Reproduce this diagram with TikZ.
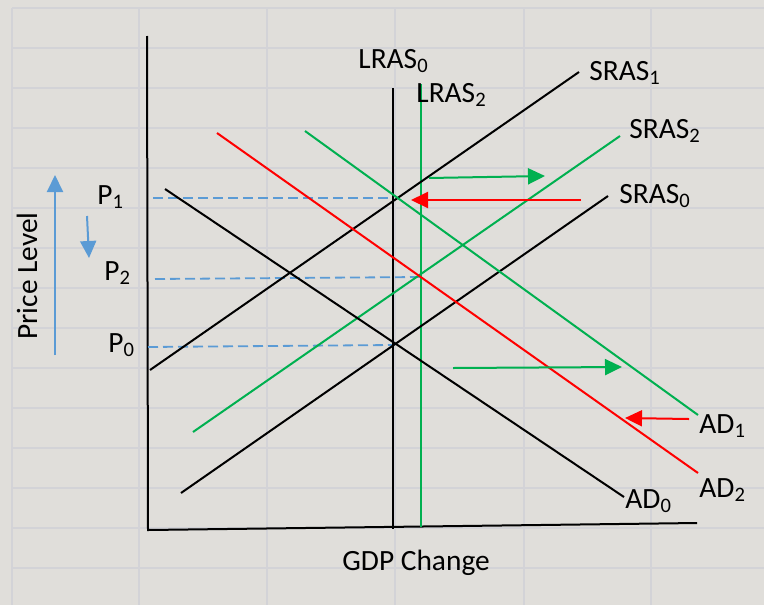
\documentclass[tikz,border=0pt]{standalone}
\usepackage{fontspec}
\setmainfont{Carlito}
\usetikzlibrary{arrows.meta}
\definecolor{bggray}{RGB}{224,222,218}
\definecolor{gridgray}{RGB}{211,211,215}
\definecolor{xlgreen}{RGB}{0,176,80}
\definecolor{xlred}{RGB}{255,0,0}
\definecolor{xlblue}{RGB}{91,155,213}

\begin{document}
\begin{tikzpicture}[x=0.5pt, y=-0.5pt,
  schedline/.style={line width=1pt},
  shiftarrow/.style={line width=1pt, -{Triangle[length=8.5pt, width=8pt]}},
  guideline/.style={xlblue, line width=0.9pt, dash pattern=on 5pt off 2.5pt},
  lbl/.style={anchor=base west, inner sep=0pt, font=\fontsize{14.7}{17}\selectfont},
]
% Sheet background and grid
\fill[bggray] (0,0) rectangle (764,605);
\useasboundingbox (0,0) rectangle (764,605);
\foreach \gx in {12,139,267,395,524,651}
  \draw[gridgray, line width=1pt] (\gx,8) -- (\gx,605);
\foreach \gy in {8,48,...,568}
  \draw[gridgray, line width=1pt] (12,\gy) -- (764,\gy);

% Axes
\coordinate (ytop) at (147,36);
\coordinate (origin) at (148,530);
\coordinate (xend) at (697,523);
\draw[line width=1pt] (ytop) -- (origin) -- (xend);

% Curve end points
\coordinate (lras0-a) at (393,88);   \coordinate (lras0-b) at (393,529);
\coordinate (lras2-a) at (421,84);   \coordinate (lras2-b) at (421,527);
\coordinate (sras1-a) at (150,370);  \coordinate (sras1-b) at (579,72);
\coordinate (sras2-a) at (193,432);  \coordinate (sras2-b) at (620,136);
\coordinate (sras0-a) at (181,493);  \coordinate (sras0-b) at (608,196);
\coordinate (ad0-a) at (165,189);    \coordinate (ad0-b) at (624,497);
\coordinate (ad2-a) at (217,133);    \coordinate (ad2-b) at (698,473);
\coordinate (ad1-a) at (305,131);    \coordinate (ad1-b) at (698,415);

% Price guides
\coordinate (g1-a) at (153,198);  \coordinate (g1-b) at (393,198);
\coordinate (g2-a) at (155,279);  \coordinate (g2-b) at (421,277);
\coordinate (g0-a) at (148,347);  \coordinate (g0-b) at (393,345);
\draw[guideline] (g1-a) -- (g1-b);
\draw[guideline] (g2-a) -- (g2-b);
\draw[guideline] (g0-a) -- (g0-b);

% Supply and demand
\draw[schedline] (lras0-a) -- (lras0-b);
\draw[schedline, xlgreen] (lras2-a) -- (lras2-b);
\draw[schedline] (sras1-a) -- (sras1-b);
\draw[schedline, xlgreen] (sras2-a) -- (sras2-b);
\draw[schedline] (sras0-a) -- (sras0-b);
\draw[schedline] (ad0-a) -- (ad0-b);
\draw[schedline, xlred] (ad2-a) -- (ad2-b);
\draw[schedline, xlgreen] (ad1-a) -- (ad1-b);

% Shift arrows
\coordinate (up-a) at (429,178);   \coordinate (up-b) at (545,176);
\coordinate (ul-a) at (581,200);   \coordinate (ul-b) at (411,200);
\coordinate (dr-a) at (453,368);   \coordinate (dr-b) at (622,367);
\coordinate (dl-a) at (689,419);   \coordinate (dl-b) at (625,418);
\draw[shiftarrow, xlgreen] (up-a) -- (up-b);
\draw[shiftarrow, xlred] (ul-a) -- (ul-b);
\draw[shiftarrow, xlgreen] (dr-a) -- (dr-b);
\draw[shiftarrow, xlred] (dl-a) -- (dl-b);

% Price level arrows
\coordinate (rise-a) at (55,355);  \coordinate (rise-b) at (55,175);
\coordinate (fall-a) at (87,216);  \coordinate (fall-b) at (89,258);
\draw[shiftarrow, xlblue] (rise-a) -- (rise-b);
\draw[shiftarrow, xlblue] (fall-a) -- (fall-b);

% Labels
\node[lbl] (lras0) at (358,68) {LRAS\textsubscript{0}};
\node[lbl] (lras2) at (416,102) {LRAS\textsubscript{2}};
\node[lbl] (sras1) at (589,80) {SRAS\textsubscript{1}};
\node[lbl] (sras2) at (629,138) {SRAS\textsubscript{2}};
\node[lbl] (sras0) at (619,203) {SRAS\textsubscript{0}};
\node[lbl] (ad1) at (699,433) {AD\textsubscript{1}};
\node[lbl] (ad2) at (699,497) {AD\textsubscript{2}};
\node[lbl] (ad0) at (625,508) {AD\textsubscript{0}};
\node[lbl] (p1) at (97,204) {P\textsubscript{1}};
\node[lbl] (p2) at (104,280) {P\textsubscript{2}};
\node[lbl] (p0) at (108,352) {P\textsubscript{0}};
\node[lbl] (gdp) at (342,570) {GDP Change};
\node[lbl, rotate=90] (price) at (37,340) {Price Level};
\end{tikzpicture}
\end{document}
